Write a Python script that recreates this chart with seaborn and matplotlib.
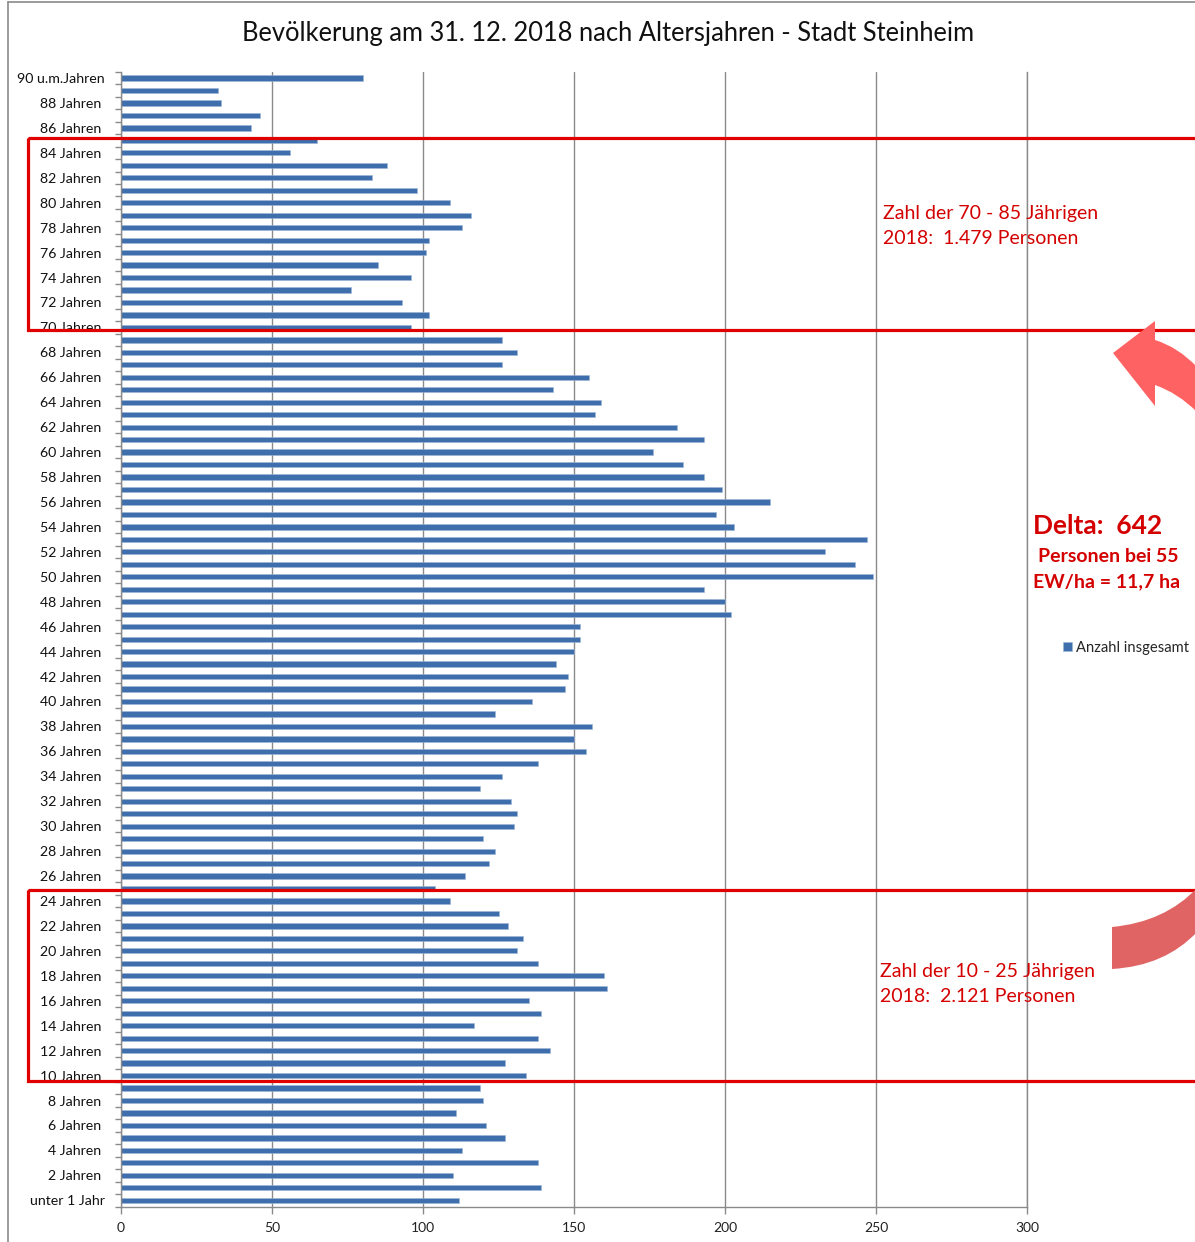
import matplotlib
matplotlib.use("Agg")
import matplotlib.pyplot as plt
import matplotlib.transforms as mtransforms
from matplotlib.patches import Rectangle, PathPatch
from matplotlib.path import Path
from matplotlib.lines import Line2D
from matplotlib.ticker import FixedLocator
import seaborn as sns
import pandas as pd

# Population by single year of age, ages 90+ down to 0
ages = list(range(90, -1, -1))
counts = [
    80, 32, 33, 46, 43,                      # 90+ .. 86
    65, 56, 88, 83, 98, 109, 116, 113,       # 85 .. 78
    102, 101, 85, 96, 76, 93, 102, 96,       # 77 .. 70
    126, 131, 126, 155, 143, 159, 157, 184,  # 69 .. 62
    193, 176, 186, 193, 199, 215, 197, 203,  # 61 .. 54
    247, 233, 243, 249, 193, 200, 202, 152,  # 53 .. 46
    152, 150, 144, 148, 147, 136, 124, 156,  # 45 .. 38
    150, 154, 138, 126, 119, 129, 131, 130,  # 37 .. 30
    120, 124, 122, 114, 104, 109, 125, 128,  # 29 .. 22
    133, 131, 138, 160, 161, 135, 139, 117,  # 21 .. 14
    138, 142, 127, 134, 119, 120, 111, 121,  # 13 .. 6
    127, 113, 138, 110, 139, 112,            # 5 .. 0
]


def age_label(a):
    if a == 90:
        return "90 u.m.Jahren"
    if a == 0:
        return "unter 1 Jahr"
    if a == 1:
        return "1 Jahr"
    return f"{a} Jahren"


categories = [age_label(a) for a in ages]
series_name = "Anzahl insgesamt"
x_ticks = [0, 50, 100, 150, 200, 250, 300]

title = "Bevölkerung am 31. 12. 2018 nach Altersjahren - Stadt Steinheim"
old_group_lines = ["Zahl der 70 - 85 Jährigen", "2018:  1.479 Personen"]
young_group_lines = ["Zahl der 10 - 25 Jährigen", "2018:  2.121 Personen"]
delta_head = "Delta:  642"
delta_lines = ["Personen bei 55", "EW/ha = 11,7 ha"]

df = pd.DataFrame({"Alter": categories, series_name: counts})

W, H = 1195, 1242
sns.set_theme(style="white")
plt.rcParams["font.family"] = ["Lato", "DejaVu Sans"]

fig = plt.figure(figsize=(W / 100, H / 100), dpi=100)
fig.patch.set_facecolor("white")
ax = fig.add_axes([121 / W, 1 - 1206.5 / H, 906 / W, (1206.5 - 71.8) / H])

bar_color = "#3f6eac"
sns.barplot(data=df, x=series_name, y="Alter", orient="h", color=bar_color,
            saturation=1, width=0.42, ax=ax, label=series_name,
            edgecolor="#9db6d8", linewidth=0.4)

grid_c = "#8a8a8a"
ax.set_xlim(0, 300)
ax.set_ylim(len(categories) - 0.5, -0.5)
ax.set_xticks(x_ticks)
ax.set_xticklabels([str(t) for t in x_ticks], fontsize=10, color="#222222")
ax.xaxis.grid(True, color=grid_c, linewidth=1.0)
ax.set_axisbelow(True)

# label every second year, ticks on the category boundaries
label_idx = list(range(0, len(categories), 2))
ax.set_yticks(label_idx)
ax.set_yticklabels([categories[i] for i in label_idx], fontsize=10.2, color="#111111")
ax.yaxis.set_minor_locator(FixedLocator([i - 0.5 for i in range(len(categories) + 1)]))
ax.tick_params(axis="y", which="major", length=0, pad=14)
ax.tick_params(axis="y", which="minor", length=4, width=1, color=grid_c, left=True)
ax.tick_params(axis="x", which="major", length=5, width=1, color=grid_c, bottom=True, pad=6)
# the two end labels sit a little further right
for lab in ax.get_yticklabels():
    if lab.get_text() in ("90 u.m.Jahren", "unter 1 Jahr"):
        lab.set_transform(lab.get_transform() + mtransforms.ScaledTranslation(3 / 100, 0, fig.dpi_scale_trans))
ax.set_xlabel("")
ax.set_ylabel("")
ax.spines["top"].set_visible(False)
for side in ("left", "bottom", "right"):
    ax.spines[side].set_color(grid_c)
    ax.spines[side].set_linewidth(1.0)
if ax.get_legend() is not None:
    ax.get_legend().remove()

# helpers: pixel positions on the figure
px_tr = mtransforms.Affine2D().scale(1 / W, -1 / H).translate(0, 1) + fig.transFigure


def fx(x):
    return x / W


def fy(y):
    return 1 - y / H


# chart frame
fig.add_artist(Line2D([fx(8), fx(8)], [0, fy(2)], color=grid_c, linewidth=1.2))
fig.add_artist(Line2D([fx(8), 1], [fy(2), fy(2)], color=grid_c, linewidth=1.2))

fig.text(fx(608), fy(33), title, ha="center", va="center", fontsize=18.4, color="#111111")

# highlighted age groups
blend = mtransforms.blended_transform_factory(fig.transFigure, ax.transData)
red = "#e00000"


def group_box(top_age, bottom_age, top_off, bottom_off):
    y0 = ages.index(top_age) + top_off
    y1 = ages.index(bottom_age) + bottom_off
    fig.add_artist(Rectangle((fx(28), y0), 1.0, y1 - y0, transform=blend,
                             fill=False, edgecolor=red, linewidth=2.3, clip_on=False))


group_box(85, 70, -0.2, 0.2)
group_box(25, 10, 0.12, 0.45)

txt_red = "#d40000"
fig.text(fx(883), fy(213), old_group_lines[0], ha="left", va="center", fontsize=14, color=txt_red)
fig.text(fx(883), fy(239), old_group_lines[1], ha="left", va="center", fontsize=14, color=txt_red)
fig.text(fx(880), fy(971), young_group_lines[0], ha="left", va="center", fontsize=14, color=txt_red)
fig.text(fx(880), fy(997), young_group_lines[1], ha="left", va="center", fontsize=14, color=txt_red)

fig.text(fx(1098), fy(526), delta_head, ha="center", va="center", fontsize=19,
         fontweight="bold", color=txt_red)
fig.text(fx(1108), fy(556), delta_lines[0], ha="center", va="center", fontsize=14,
         fontweight="bold", color=txt_red)
fig.text(fx(1107), fy(582), delta_lines[1], ha="center", va="center", fontsize=14,
         fontweight="bold", color=txt_red)

# curved arrows at the right margin
up_arrow = Path(
    [(1113, 353), (1155, 321), (1155, 340), (1178, 347), (1197, 367),
     (1197, 412), (1178, 393), (1155, 385), (1155, 406), (1113, 353)],
    [Path.MOVETO, Path.LINETO, Path.LINETO, Path.CURVE3, Path.CURVE3,
     Path.LINETO, Path.CURVE3, Path.CURVE3, Path.LINETO, Path.CLOSEPOLY])
fig.add_artist(PathPatch(up_arrow, transform=px_tr, facecolor="#ff6262",
                         edgecolor="none", clip_on=False))

low_band = Path(
    [(1112, 927), (1165, 922), (1197, 888), (1197, 932), (1165, 966), (1112, 969), (1112, 927)],
    [Path.MOVETO, Path.CURVE3, Path.CURVE3, Path.LINETO, Path.CURVE3, Path.CURVE3,
     Path.CLOSEPOLY])
fig.add_artist(PathPatch(low_band, transform=px_tr, facecolor="#e06464",
                         edgecolor="none", clip_on=False))

# legend
handle = Rectangle((0, 0), 1, 1, facecolor=bar_color, edgecolor="#9db6d8", linewidth=0.4)
fig.legend([handle], [series_name], loc="center left",
           bbox_to_anchor=(fx(1063), fy(648)), frameon=False, fontsize=10.6,
           handlelength=0.6, handleheight=0.6, handletextpad=0.3,
           borderpad=0, borderaxespad=0)

fig.savefig("out.png", dpi=100, facecolor="white")
